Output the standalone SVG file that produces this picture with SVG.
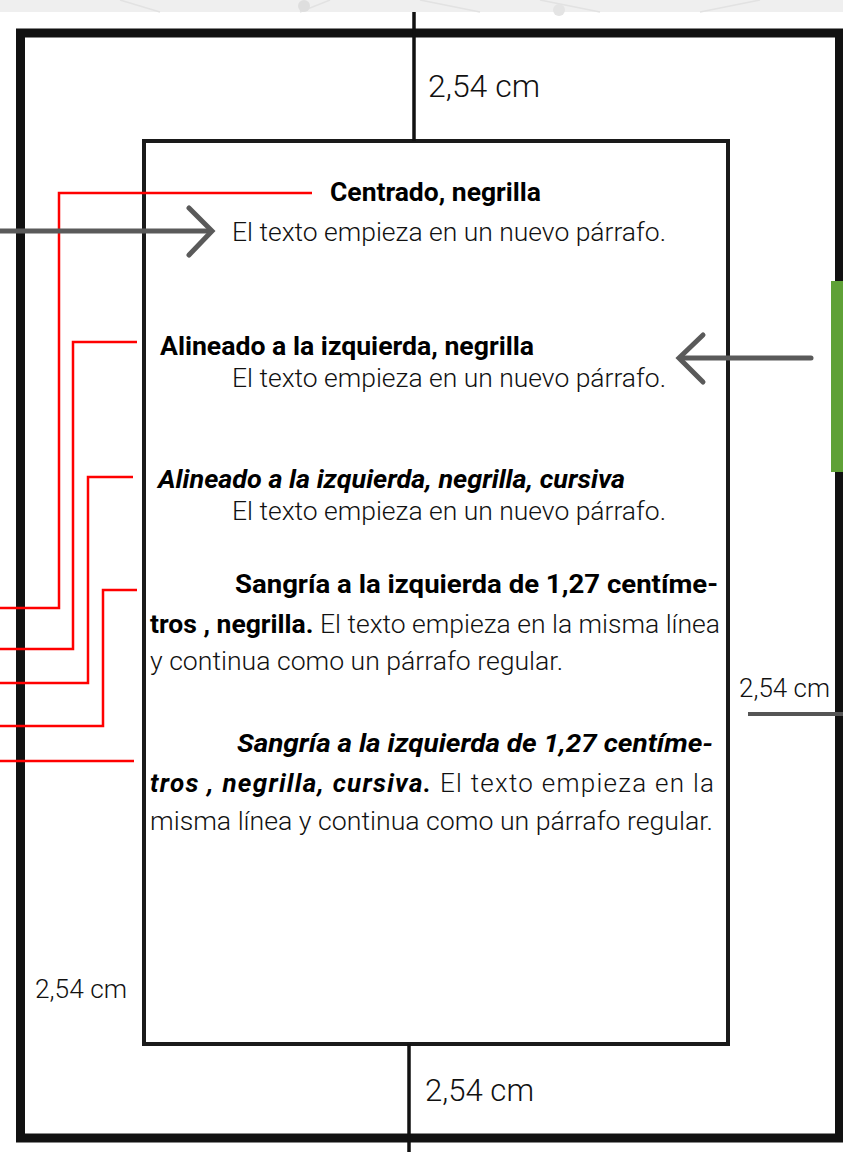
<svg xmlns="http://www.w3.org/2000/svg" width="843" height="1152" viewBox="0 0 843 1152">
  <style>
    .b{font-family:Roboto,"Liberation Sans",sans-serif;font-weight:700;font-size:26px;fill:#000}
    .bi{font-family:Roboto,"Liberation Sans",sans-serif;font-weight:700;font-style:italic;font-size:26px;fill:#000}
    .l{font-family:Roboto,"Liberation Sans",sans-serif;font-weight:300;font-size:26px;fill:#111}
    .dim{font-family:Roboto,"Liberation Sans",sans-serif;font-weight:300;fill:#111}
    .red{fill:none;stroke:#ff0000;stroke-width:2.5}
    .gray{fill:none;stroke:#5a5a5a;stroke-width:5;stroke-linecap:round;stroke-linejoin:miter}
  </style>
  <rect x="0" y="0" width="843" height="1152" fill="#ffffff"/>
  <g id="background-strip">
    <rect x="0" y="0" width="843" height="12" fill="#efefef"/>
    <path d="M120,0 L160,12 M300,12 L330,0 M540,0 L600,12 M700,12 L760,0 M420,0 L480,12" stroke="#e2e2e2" stroke-width="1.5" fill="none"/>
    <circle cx="304" cy="6" r="6" fill="#dedede"/>
    <circle cx="559" cy="10" r="6" fill="#e4e4e4"/>
  </g>
  <g id="page">
    <rect x="20.5" y="33" width="819" height="1105" fill="none" stroke="#111" stroke-width="9"/>
    <rect id="green-tab" x="831" y="281" width="12" height="191" fill="#5fa136"/>
  </g>
  <g id="margin-box">
    <rect x="144" y="141" width="584" height="903" fill="#fff" stroke="#1a1a1a" stroke-width="4"/>
  </g>
  <g id="dimension-lines">
    <line x1="414" y1="12" x2="414" y2="141" stroke="#111" stroke-width="3.5"/>
    <line x1="409" y1="1044" x2="409" y2="1152" stroke="#111" stroke-width="3.5"/>
    <line x1="748" y1="714" x2="843" y2="714" stroke="#555" stroke-width="4"/>
  </g>
  <g id="label-top"><text class="dim" x="428" y="97" font-size="32" textLength="112" lengthAdjust="spacingAndGlyphs">2,54 cm</text></g>
  <g id="label-bottom"><text class="dim" x="425" y="1101" font-size="31" textLength="109" lengthAdjust="spacingAndGlyphs">2,54 cm</text></g>
  <g id="label-left"><text class="dim" x="35" y="998" font-size="26" textLength="92" lengthAdjust="spacingAndGlyphs">2,54 cm</text></g>
  <g id="label-right"><text class="dim" x="739" y="697" font-size="25" textLength="91" lengthAdjust="spacingAndGlyphs">2,54 cm</text></g>

  <g id="block-centrado">
    <text class="b" x="330" y="201" textLength="211" lengthAdjust="spacingAndGlyphs">Centrado, negrilla</text>
    <text class="l" x="232" y="241" textLength="434" lengthAdjust="spacingAndGlyphs">El texto empieza en un nuevo párrafo.</text>
  </g>
  <g id="block-alineado">
    <text class="b" x="160" y="355" textLength="374" lengthAdjust="spacingAndGlyphs">Alineado a la izquierda, negrilla</text>
    <text class="l" x="232" y="387" textLength="434" lengthAdjust="spacingAndGlyphs">El texto empieza en un nuevo párrafo.</text>
  </g>
  <g id="block-alineado-cursiva">
    <text class="bi" x="158" y="488" textLength="467" lengthAdjust="spacingAndGlyphs">Alineado a la izquierda, negrilla, cursiva</text>
    <text class="l" x="232" y="520" textLength="434" lengthAdjust="spacingAndGlyphs">El texto empieza en un nuevo párrafo.</text>
  </g>
  <g id="block-sangria">
    <text class="b" x="235" y="593" textLength="483" lengthAdjust="spacingAndGlyphs">Sangría a la izquierda de 1,27 centíme-</text>
    <text x="150" y="633" textLength="570" lengthAdjust="spacingAndGlyphs"><tspan class="b">tros , negrilla.</tspan><tspan class="l"> El texto empieza en la misma línea</tspan></text>
    <text class="l" x="150" y="670" textLength="413" lengthAdjust="spacingAndGlyphs">y continua como un párrafo regular.</text>
  </g>
  <g id="block-sangria-cursiva">
    <text class="bi" x="237" y="752" textLength="476" lengthAdjust="spacingAndGlyphs">Sangría a la izquierda de 1,27 centíme-</text>
    <text x="150" y="792" textLength="564" lengthAdjust="spacing"><tspan class="bi">tros , negrilla, cursiva.</tspan><tspan class="l"> El texto empieza en la</tspan></text>
    <text class="l" x="150" y="830" textLength="563" lengthAdjust="spacingAndGlyphs">misma línea y continua como un párrafo regular.</text>
  </g>

  <g id="connectors">
    <polyline class="red" points="312,193 59,193 59,608 0,608"/>
    <polyline class="red" points="137,342 73,342 73,649 0,649"/>
    <polyline class="red" points="133,477 88,477 88,683 0,683"/>
    <polyline class="red" points="137,590 103,590 103,726 0,726"/>
    <polyline class="red" points="134,761 0,761"/>
    <line class="gray" x1="-5" y1="231" x2="209" y2="231"/>
    <polyline class="gray" points="189,208 212,231 189,255"/>
    <line class="gray" x1="811" y1="358" x2="681" y2="358"/>
    <polyline class="gray" points="703,335 679,358 703,382"/>
  </g>
</svg>
